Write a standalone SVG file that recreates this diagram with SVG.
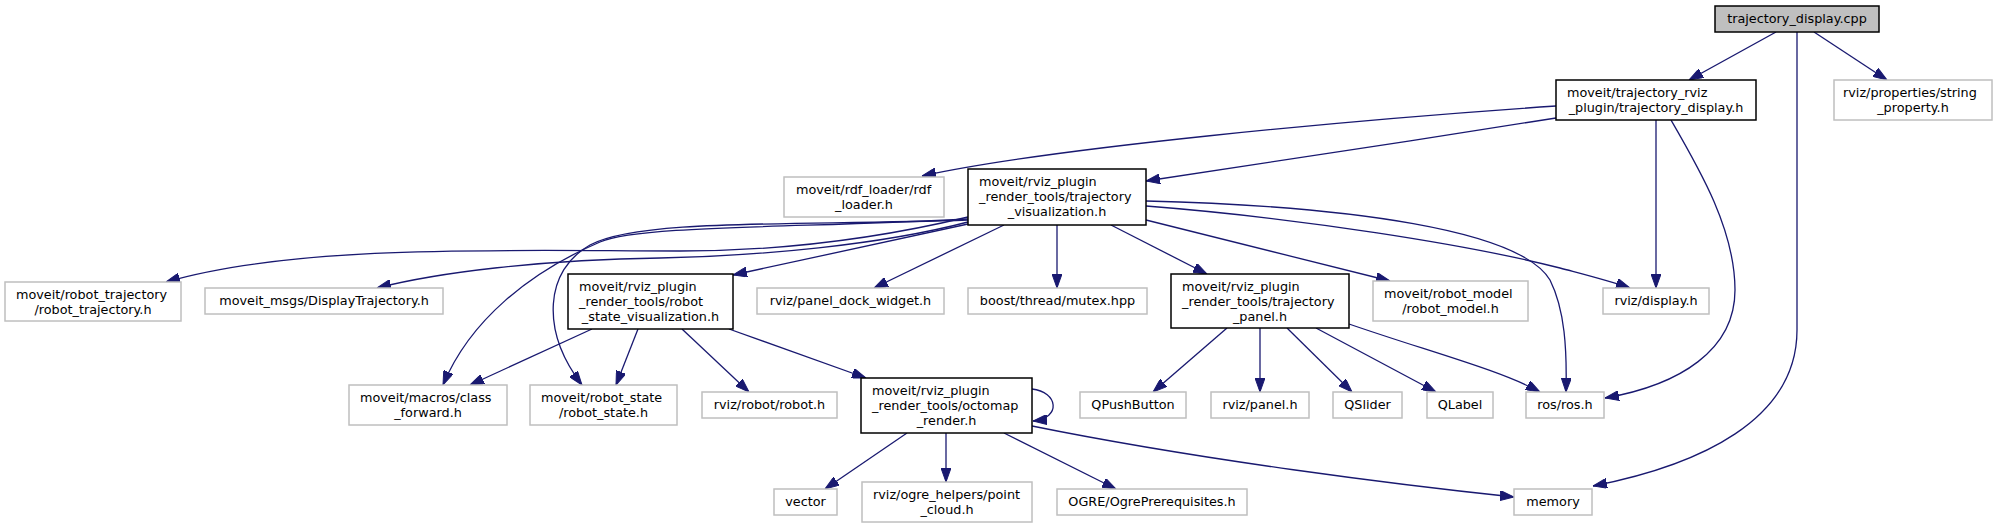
<svg xmlns="http://www.w3.org/2000/svg" width="1997" height="528" viewBox="0 0 1997 528">
<style>
.n rect{fill:#fff;stroke:#000;stroke-width:1.5}
.g rect{fill:#fff;stroke:#bfbfbf;stroke-width:1.5}
.r rect{fill:#bfbfbf;stroke:#000;stroke-width:1.5}
text{font-family:"DejaVu Sans","Liberation Sans",sans-serif;font-size:12.8px;fill:#000}
.m{text-anchor:middle}
#edges path{fill:none;stroke:#191970;stroke-width:1.3;marker-end:url(#ah)}
</style>
<defs>
<marker id="ah" markerUnits="userSpaceOnUse" viewBox="0 0 14 10" refX="14" refY="5" markerWidth="14" markerHeight="10" orient="auto">
<path d="M0,0 L14,5 L0,10 z" fill="#191970" stroke="#191970" stroke-width="1"/>
</marker>
</defs>
<rect width="1997" height="528" fill="#fff"/>
<g id="edges">
<path d="M1776,32 L1689,80"/>
<path d="M1814,32 L1887,80"/>
<path d="M1797,32 L1797,330 C1797,420 1700,465 1593,486"/>
<path d="M1556,106 C1350,120 1050,148 922,176"/>
<path d="M1556,118 C1420,140 1250,165 1146,181"/>
<path d="M1656,120 L1656,288"/>
<path d="M1671,120 C1700,170 1735,230 1735,290 C1735,350 1680,385 1605,398"/>
<path d="M968,217 C880,238 780,251 680,251 C520,251 300,243 166,282"/>
<path d="M968,222 C880,245 760,256 660,258 C540,260 440,272 377,288"/>
<path d="M968,224 L733,275"/>
<path d="M968,219 C800,228 640,225 600,242 C530,272 470,320 443,385"/>
<path d="M968,220 C800,226 640,218 590,245 C545,270 540,330 582,385"/>
<path d="M1004,225 L874,288"/>
<path d="M1057,225 L1057,288"/>
<path d="M1111,225 L1207,274"/>
<path d="M1146,220 L1390,281"/>
<path d="M1146,206 C1300,218 1470,245 1560,268 C1590,276 1610,281 1630,288"/>
<path d="M1146,201 C1350,206 1520,230 1550,280 C1565,310 1567,350 1566,392"/>
<path d="M592,329 L470,385"/>
<path d="M638,329 L616,385"/>
<path d="M682,329 L749,392"/>
<path d="M729,329 L866,378"/>
<path d="M1032,389 C1058,392 1062,418 1033,421"/>
<path d="M907,433 L825,489"/>
<path d="M946,433 L946,482"/>
<path d="M1004,433 L1116,489"/>
<path d="M1032,426 C1200,460 1400,485 1514,497"/>
<path d="M1227,328 L1153,392"/>
<path d="M1260,328 L1260,392"/>
<path d="M1287,328 L1352,392"/>
<path d="M1316,328 L1436,392"/>
<path d="M1349,324 C1430,352 1500,370 1540,392"/>
</g>
<g id="cpp" class="r"><rect x="1715" y="6" width="164" height="26"/><text x="1797" y="23" class="m">trajectory_display.cpp</text></g>
<g id="traj_display_h" class="n"><rect x="1556" y="80" width="200" height="40"/><text x="1567" y="97">moveit/trajectory_rviz</text><text x="1656" y="112" class="m">_plugin/trajectory_display.h</text></g>
<g id="string_property" class="g"><rect x="1834" y="80" width="158" height="40"/><text x="1843" y="97">rviz/properties/string</text><text x="1913" y="112" class="m">_property.h</text></g>
<g id="rdf_loader" class="g"><rect x="784" y="177" width="160" height="40"/><text x="796" y="194">moveit/rdf_loader/rdf</text><text x="864" y="209" class="m">_loader.h</text></g>
<g id="traj_vis" class="n"><rect x="968" y="169" width="178" height="56"/><text x="979" y="186">moveit/rviz_plugin</text><text x="979" y="201">_render_tools/trajectory</text><text x="1057" y="216" class="m">_visualization.h</text></g>
<g id="robot_trajectory" class="g"><rect x="5" y="282" width="176" height="39"/><text x="16" y="299">moveit/robot_trajectory</text><text x="93" y="314" class="m">/robot_trajectory.h</text></g>
<g id="display_trajectory" class="g"><rect x="205" y="288" width="238" height="26"/><text x="324" y="305" class="m">moveit_msgs/DisplayTrajectory.h</text></g>
<g id="robot_state_vis" class="n"><rect x="568" y="274" width="165" height="55"/><text x="579" y="290.5">moveit/rviz_plugin</text><text x="579" y="305.5">_render_tools/robot</text><text x="650.5" y="320.5" class="m">_state_visualization.h</text></g>
<g id="panel_dock_widget" class="g"><rect x="757" y="288" width="187" height="26"/><text x="850.5" y="305" class="m">rviz/panel_dock_widget.h</text></g>
<g id="mutex" class="g"><rect x="968" y="288" width="179" height="26"/><text x="1057.5" y="305" class="m">boost/thread/mutex.hpp</text></g>
<g id="traj_panel" class="n"><rect x="1171" y="274" width="178" height="54"/><text x="1182" y="290.5">moveit/rviz_plugin</text><text x="1182" y="305.5">_render_tools/trajectory</text><text x="1260" y="320.5" class="m">_panel.h</text></g>
<g id="robot_model" class="g"><rect x="1373" y="281" width="155" height="40"/><text x="1384" y="298">moveit/robot_model</text><text x="1450.5" y="313" class="m">/robot_model.h</text></g>
<g id="display_h" class="g"><rect x="1603" y="288" width="106" height="26"/><text x="1656" y="305" class="m">rviz/display.h</text></g>
<g id="class_forward" class="g"><rect x="349" y="385" width="158" height="40"/><text x="360" y="402">moveit/macros/class</text><text x="428" y="417" class="m">_forward.h</text></g>
<g id="robot_state" class="g"><rect x="530" y="385" width="147" height="40"/><text x="541" y="402">moveit/robot_state</text><text x="603.5" y="417" class="m">/robot_state.h</text></g>
<g id="robot_h" class="g"><rect x="702" y="392" width="135" height="26"/><text x="769.5" y="409" class="m">rviz/robot/robot.h</text></g>
<g id="octomap" class="n"><rect x="861" y="378" width="171" height="55"/><text x="872" y="394.5">moveit/rviz_plugin</text><text x="872" y="409.5">_render_tools/octomap</text><text x="946.5" y="424.5" class="m">_render.h</text></g>
<g id="qpushbutton" class="g"><rect x="1080" y="392" width="106" height="26"/><text x="1133" y="409" class="m">QPushButton</text></g>
<g id="panel_h" class="g"><rect x="1211" y="392" width="98" height="26"/><text x="1260" y="409" class="m">rviz/panel.h</text></g>
<g id="qslider" class="g"><rect x="1333" y="392" width="69" height="26"/><text x="1367.5" y="409" class="m">QSlider</text></g>
<g id="qlabel" class="g"><rect x="1427" y="392" width="66" height="26"/><text x="1460" y="409" class="m">QLabel</text></g>
<g id="ros_h" class="g"><rect x="1526" y="392" width="78" height="26"/><text x="1565" y="409" class="m">ros/ros.h</text></g>
<g id="vector" class="g"><rect x="774" y="489" width="63" height="26"/><text x="805.5" y="506" class="m">vector</text></g>
<g id="point_cloud" class="g"><rect x="862" y="482" width="170" height="40"/><text x="873" y="499">rviz/ogre_helpers/point</text><text x="947" y="514" class="m">_cloud.h</text></g>
<g id="ogre" class="g"><rect x="1057" y="489" width="190" height="26"/><text x="1152" y="506" class="m">OGRE/OgrePrerequisites.h</text></g>
<g id="memory" class="g"><rect x="1514" y="489" width="78" height="26"/><text x="1553" y="506" class="m">memory</text></g>
</svg>
